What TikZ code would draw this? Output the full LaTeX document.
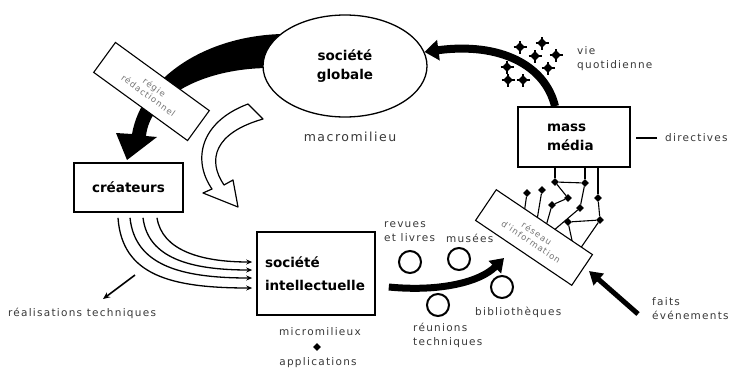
\documentclass[tikz,border=0pt]{standalone}
\usepackage{fontspec}
\setmainfont{DejaVu Sans}
\newfontfamily\labfont[LetterSpace=12]{DejaVu Sans}
\usetikzlibrary{arrows.meta,shapes.geometric}
\begin{document}
\begin{tikzpicture}[x=1pt,y=-1pt,
  big/.style={font=\bfseries\fontsize{13.5}{19}\selectfont},
  sm/.style={font=\labfont\fontsize{10.5}{14.5}\selectfont, text=black!78, align=left, inner sep=0pt},
  box/.style={draw, line width=1.6pt, fill=white, inner sep=0pt},
  rbox/.style={draw, line width=1.1pt, fill=white, font=\labfont\fontsize{8.5}{10}\selectfont, text=black!55, align=center, minimum width=116pt, minimum height=37pt, inner sep=1pt},
  ring/.style={circle, draw, line width=2pt, minimum size=22pt, inner sep=0pt},
  dot/.style={diamond, fill=black, minimum size=8pt, inner sep=0pt},
  vq/.style={diamond, fill=black, minimum size=10pt, inner sep=0pt},
  feed/.style={line width=1.3pt, -{Stealth[length=6pt,width=5pt]}},
  net/.style={line width=1.1pt}
]
\useasboundingbox (0,0) rectangle (730,375);

% thick arrow: societe globale -> createurs
\fill (282,34) .. controls (205,36) and (142,78) .. (132,134) -- (116,133) -- (127,160) -- (157,137) -- (146,136) .. controls (150,96) and (205,68) .. (270,68) -- cycle;

\node[ellipse, draw, line width=1.3pt, fill=white, minimum width=164pt, minimum height=102pt, big, align=center] (glob) at (345,66) {société\\globale};

\node[rbox, rotate=-36] (regie) at (151.5,91.5) {régie\\rédactionnel};

% hollow arrow
\filldraw[fill=white, line width=1.2pt, line join=round] (248,104) .. controls (200,122) and (192,160) .. (212,189) -- (203,193) -- (238,207) -- (233,180) -- (224,185) .. controls (207,160) and (214,133) .. (263,119) -- cycle;

\node[box, big, minimum width=109pt, minimum height=49pt] (crea) at (128.5,187.5) {créateurs};
\node[box, big, minimum height=83pt, text width=102pt, inner xsep=8pt, align=left] (intel) at (316,273.5) {société\\[4pt]intellectuelle};

% four arrows createurs -> societe intellectuelle
\draw[feed] ([xshift=-10.5pt,yshift=-5pt]crea.south) .. controls (122,275) and (170,288) .. ([xshift=-4pt,yshift=-14.5pt]intel.west);
\draw[feed] ([xshift=1.5pt,yshift=-5pt]crea.south) .. controls (135,265) and (180,278) .. ([xshift=-4pt,yshift=-4.5pt]intel.west);
\draw[feed] ([xshift=14.5pt,yshift=-5pt]crea.south) .. controls (148,258) and (190,270) .. ([xshift=-4pt,yshift=3.5pt]intel.west);
\draw[feed] ([xshift=28.5pt,yshift=-5pt]crea.south) .. controls (162,250) and (200,262) .. ([xshift=-4pt,yshift=11.5pt]intel.west);

% mass media
\node[box, big, minimum width=112pt, minimum height=60pt, text width=54pt, inner xsep=29pt, align=left] (mm) at (574,137) {mass\\média};
\draw[line width=8pt, -{Triangle[length=14pt,width=20pt]}] ([xshift=-19pt]mm.north) .. controls (545,65) and (500,42) .. (glob.10);

% vie quotidienne markers
\node[vq] (v1) at (520,47) {};
\node[vq] (v2) at (542,43) {};
\node[vq] (v3) at (535,56) {};
\node[vq] (v4) at (556,55) {};
\node[vq] (v5) at (507,67) {};
\node[vq] (v6) at (548,68) {};
\node[vq] (v7) at (508,80) {};
\node[vq] (v8) at (523,80) {};
\foreach \v in {v1,v2,v3,v4,v5,v6,v7,v8}
  \draw[line width=1.3pt] ([xshift=-6.5pt]\v.center) -- ([xshift=6.5pt]\v.center)
                          ([yshift=-6.5pt]\v.center) -- ([yshift=6.5pt]\v.center);

% network under mass media
\node[dot] (nA) at (555,182) {};
\node[dot] (nB) at (585,183) {};
\node[dot] (nC) at (598,198) {};
\node[dot] (nD) at (600,220) {};
\node[dot] (nE) at (527,193) {};
\node[dot] (nF) at (542,190) {};
\node[dot] (nG) at (568,198) {};
\node[dot] (nH) at (552,205) {};
\node[dot] (nI) at (580,208) {};
\node[dot] (nJ) at (568,222) {};
\coordinate (sE) at (524,214);
\coordinate (sF) at (537,220);
\coordinate (sH) at (546,226);
\coordinate (sI) at (553,231);
\coordinate (sJ) at (573,245);
\coordinate (sD) at (580,249);
\draw[net] ([xshift=-19pt]mm.south) -- (nA);
\draw[net] ([xshift=11pt]mm.south) -- (nB);
\draw[net] ([xshift=24pt]mm.south) -- (nC);
\draw[net] (nC) -- (nD);
\draw[net] (nA) -- (nB);
\draw[net] (nA) -- (nG);
\draw[net] (nB) -- (nI);
\draw[net] (nJ) -- (nD);
\draw[net] (nG) -- (nH);
\draw[net] (nE) -- (sE);
\draw[net] (nF) -- (sF);
\draw[net] (nH) -- (sH);
\draw[net] (nI) -- (sI);
\draw[net] (nJ) -- (sJ);
\draw[net] (nD) -- (sD);

\node[rbox, rotate=-34] (reseau) at (534,237.5) {réseau\\d'information};

% societe intellectuelle -> reseau
\draw[line width=7pt, -{Triangle[length=13pt,width=17pt]}] ([xshift=13pt,yshift=-13.5pt]intel.east) .. controls (440,292) and (480,282) .. (504,258);

% faits -> reseau
\coordinate (fs) at (638,314);
\draw[line width=5pt, -{Triangle[length=13pt,width=15pt]}] (fs) -- (589,271);

% circles
\node[ring] (c1) at (410,262) {};
\node[ring] (c2) at (459,259) {};
\node[ring] (c3) at (502,287) {};
\node[ring] (c4) at (438,305) {};

% labels
\node[sm, anchor=west] (revues) at (384,231.5) {revues\\et livres};
\node[sm, anchor=west] (musees) at (446,238) {musées};
\node[sm, anchor=west] (biblio) at (475,312) {bibliothèques};
\node[sm, anchor=west] (reunions) at (413,335.5) {réunions\\techniques};
\node[sm, anchor=west] (faits) at (652,308.5) {faits\\événements};
\node[sm, anchor=west] (vie) at (577,58.5) {vie\\quotidienne};
\node[sm, anchor=west] (dir) at (665,138) {directives};
\draw[line width=2.2pt] ([xshift=-8pt]dir.west) -- ([xshift=5pt]mm.east |- dir.west);
\node[sm] (real) at (82,313) {réalisations techniques};
\coordinate (rs) at (135,275);
\coordinate (re) at (103,299);
\draw[line width=1.6pt, -{Stealth[length=7pt,width=6pt]}] (rs) -- (re);
\node[sm] (micro) at (320,332) {micromilieux};
\node[dot] (link) at (317,347) {};
\node[sm] (appl) at (318,363) {applications};
\node[sm, font=\labfont\fontsize{12.5}{15}\selectfont] (macro) at (350,137) {macromilieu};
\end{tikzpicture}
\end{document}
